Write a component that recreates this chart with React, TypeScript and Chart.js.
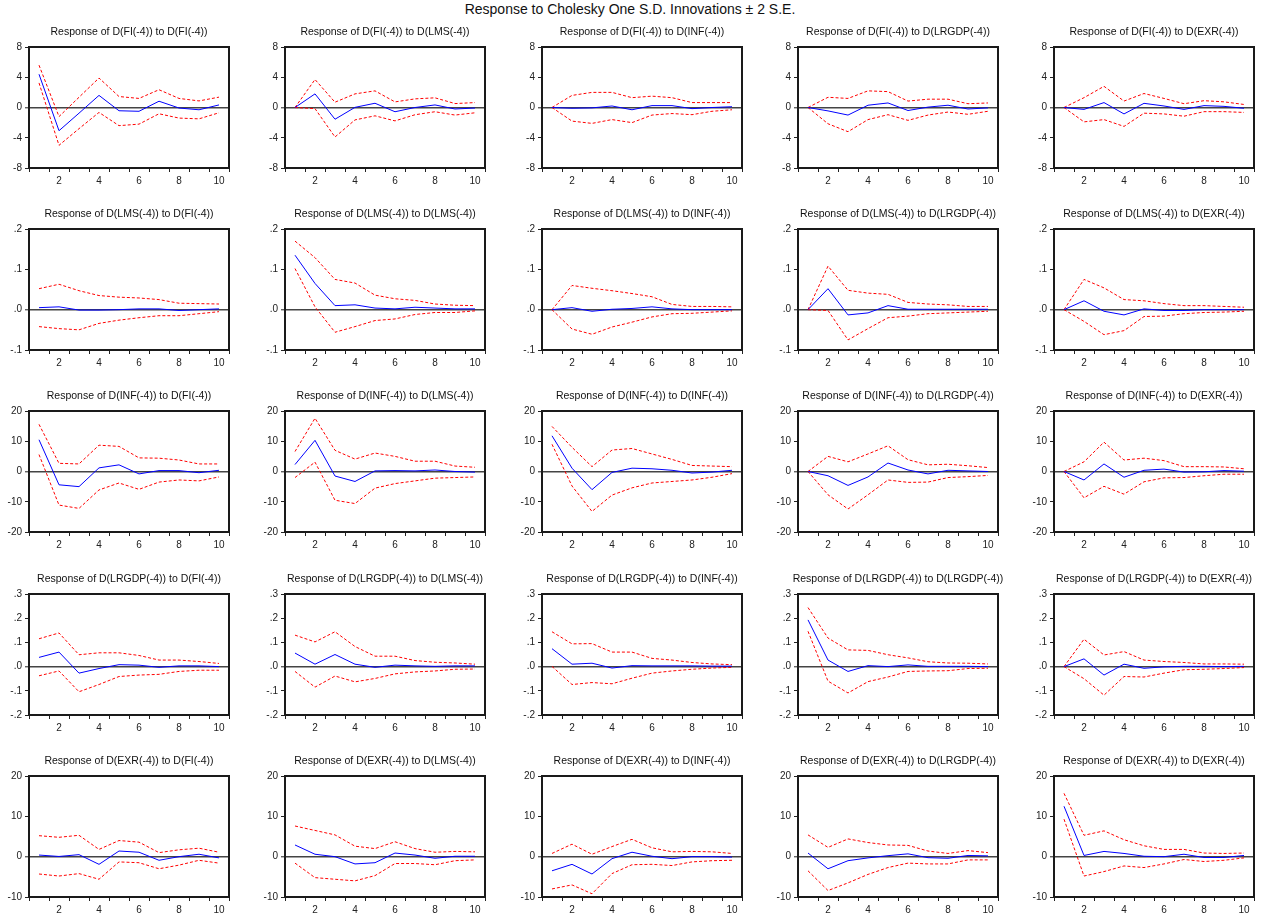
import React, { useEffect, useRef } from 'react';
import { Chart, registerables } from 'chart.js';

Chart.register(...registerables);

const periods = ['1', '2', '3', '4', '5', '6', '7', '8', '9', '10'];
const variables = ['FI', 'LMS', 'INF', 'LRGDP', 'EXR'];

// y-axis setup per response row
const yMin = [-8, -0.1, -20, -0.2, -10];
const yMax = [8, 0.2, 20, 0.3, 20];
const yStep = [4, 0.1, 10, 0.1, 10];
const decimalRows = [false, true, false, true, false];

// Response of D(FI(-4))
const r_FI_FI = [4.4, -3.07, -0.75, 1.6, -0.43, -0.5, 0.83, -0.07, -0.3, 0.34];
const u_FI_FI = [5.6, -1.2, 1.35, 3.9, 1.45, 1.2, 2.35, 1.2, 0.87, 1.37];
const l_FI_FI = [3.25, -5.0, -2.8, -0.65, -2.4, -2.2, -0.83, -1.4, -1.5, -0.7];
const r_FI_LMS = [0, 1.8, -1.55, 0.02, 0.56, -0.56, 0, 0.34, -0.2, -0.07];
const u_FI_LMS = [0, 3.7, 0.7, 1.8, 2.2, 0.74, 1.14, 1.28, 0.52, 0.65];
const l_FI_LMS = [0, -0.15, -3.9, -1.64, -1.1, -1.77, -0.96, -0.56, -1.0, -0.7];
const r_FI_INF = [0, -0.1, -0.05, 0.2, -0.3, 0.25, 0.25, -0.15, 0, 0.1];
const u_FI_INF = [0, 1.6, 2.0, 2.0, 1.3, 1.5, 1.3, 0.65, 0.65, 0.65];
const l_FI_INF = [0, -1.8, -2.1, -1.6, -2.0, -1.0, -0.8, -0.95, -0.5, -0.3];
const r_FI_LRGDP = [0, -0.45, -1.0, 0.3, 0.6, -0.4, 0.05, 0.3, -0.2, -0.05];
const u_FI_LRGDP = [0, 1.35, 1.2, 2.2, 2.1, 0.85, 1.1, 1.1, 0.5, 0.6];
const l_FI_LRGDP = [0, -2.15, -3.2, -1.6, -0.95, -1.7, -1.0, -0.6, -0.9, -0.5];
const r_FI_EXR = [0, -0.25, 0.65, -0.85, 0.55, 0.2, -0.25, 0.25, 0.15, -0.1];
const u_FI_EXR = [0, 1.3, 2.8, 0.85, 1.85, 1.2, 0.5, 0.9, 0.75, 0.4];
const l_FI_EXR = [0, -1.9, -1.6, -2.5, -0.75, -0.85, -1.15, -0.55, -0.55, -0.65];

// Response of D(LMS(-4))
const r_LMS_FI = [0.005, 0.007, -0.001, -0.001, 0, 0.002, 0.002, -0.002, 0, 0.002];
const u_LMS_FI = [0.052, 0.063, 0.047, 0.035, 0.031, 0.029, 0.025, 0.016, 0.015, 0.014];
const l_LMS_FI = [-0.042, -0.047, -0.05, -0.034, -0.026, -0.02, -0.015, -0.015, -0.01, -0.005];
const r_LMS_LMS = [0.135, 0.065, 0.01, 0.012, 0.004, 0.002, 0.006, 0.004, 0.002, 0.002];
const u_LMS_LMS = [0.17, 0.129, 0.075, 0.066, 0.036, 0.027, 0.023, 0.014, 0.011, 0.01];
const l_LMS_LMS = [0.102, 0.007, -0.056, -0.042, -0.027, -0.023, -0.012, -0.007, -0.007, -0.003];
const r_LMS_INF = [0, 0.005, -0.004, 0.001, 0.003, 0.007, 0.002, 0, 0, 0];
const u_LMS_INF = [0, 0.06, 0.053, 0.047, 0.04, 0.032, 0.013, 0.008, 0.008, 0.007];
const l_LMS_INF = [0, -0.048, -0.061, -0.043, -0.031, -0.018, -0.01, -0.009, -0.006, -0.003];
const r_LMS_LRGDP = [0, 0.052, -0.013, -0.008, 0.01, 0.001, 0.001, 0.001, 0.001, 0.001];
const u_LMS_LRGDP = [0, 0.108, 0.048, 0.041, 0.038, 0.018, 0.014, 0.012, 0.008, 0.008];
const l_LMS_LRGDP = [0, -0.002, -0.075, -0.047, -0.02, -0.016, -0.01, -0.008, -0.006, -0.004];
const r_LMS_EXR = [0, 0.022, -0.004, -0.013, 0.002, -0.002, -0.002, 0, 0, 0];
const u_LMS_EXR = [0, 0.075, 0.054, 0.025, 0.022, 0.015, 0.01, 0.01, 0.008, 0.006];
const l_LMS_EXR = [0, -0.029, -0.062, -0.052, -0.017, -0.016, -0.01, -0.007, -0.006, -0.004];

// Response of D(INF(-4))
const r_INF_FI = [10.5, -4.4, -5.0, 1.2, 2.2, -0.8, 0.3, 0.3, -0.4, 0.4];
const u_INF_FI = [15.6, 2.7, 2.5, 8.7, 8.3, 4.5, 4.4, 3.8, 2.5, 2.5];
const l_INF_FI = [5.6, -11.1, -12.2, -6.1, -3.8, -5.9, -3.5, -2.8, -3.1, -1.8];
const r_INF_LMS = [2.3, 10.3, -1.5, -3.3, 0.2, 0.3, 0.2, 0.5, 0, -0.2];
const u_INF_LMS = [6.6, 17.6, 7.0, 4.1, 6.1, 5.0, 3.4, 3.4, 1.8, 1.4];
const l_INF_LMS = [-2.0, 3.1, -9.5, -10.6, -5.5, -4.0, -3.1, -2.2, -2.0, -1.8];
const r_INF_INF = [11.8, 1.1, -6.0, -0.3, 1.1, 0.9, 0.4, -0.5, -0.2, 0.4];
const u_INF_INF = [14.9, 8.0, 1.6, 7.1, 7.6, 5.8, 4.0, 2.0, 1.8, 1.6];
const l_INF_INF = [9.0, -4.8, -13.2, -7.8, -5.4, -3.8, -3.3, -2.8, -1.9, -0.7];
const r_INF_LRGDP = [0, -1.4, -4.6, -1.8, 2.8, 0.5, -0.8, 0.4, 0.2, 0];
const u_INF_LRGDP = [0, 5.0, 3.2, 5.8, 8.5, 3.9, 2.2, 2.4, 1.9, 1.3];
const l_INF_LRGDP = [0, -7.7, -12.4, -7.7, -2.8, -3.6, -3.5, -2.0, -1.7, -1.3];
const r_INF_EXR = [0, -2.8, 2.5, -1.9, 0.4, 0.8, -0.2, -0.1, 0.3, 0.1];
const u_INF_EXR = [0, 3.2, 9.7, 3.8, 4.4, 3.6, 1.6, 1.6, 1.5, 0.9];
const l_INF_EXR = [0, -8.7, -4.9, -7.5, -3.4, -2.1, -2.0, -1.4, -0.9, -0.9];

// Response of D(LRGDP(-4))
const r_LRGDP_FI = [0.038, 0.06, -0.027, -0.008, 0.008, 0.006, -0.003, 0.003, 0.003, 0];
const u_LRGDP_FI = [0.115, 0.139, 0.049, 0.057, 0.057, 0.046, 0.027, 0.027, 0.021, 0.013];
const l_LRGDP_FI = [-0.038, -0.018, -0.104, -0.074, -0.041, -0.035, -0.032, -0.02, -0.015, -0.015];
const r_LRGDP_LMS = [0.056, 0.01, 0.05, 0.01, -0.003, 0.006, 0.003, 0.001, 0.003, 0.003];
const u_LRGDP_LMS = [0.13, 0.102, 0.144, 0.083, 0.043, 0.043, 0.025, 0.018, 0.015, 0.01];
const l_LRGDP_LMS = [-0.02, -0.085, -0.039, -0.063, -0.049, -0.03, -0.022, -0.018, -0.011, -0.01];
const r_LRGDP_INF = [0.074, 0.01, 0.014, -0.006, 0.004, 0.003, 0.003, 0.003, 0.002, 0.002];
const u_LRGDP_INF = [0.144, 0.094, 0.095, 0.06, 0.06, 0.034, 0.027, 0.017, 0.011, 0.008];
const l_LRGDP_INF = [0.001, -0.074, -0.066, -0.071, -0.048, -0.027, -0.018, -0.011, -0.006, -0.003];
const r_LRGDP_LRGDP = [0.193, 0.027, -0.02, 0.004, 0, 0.007, 0.001, 0.001, 0.001, 0];
const u_LRGDP_LRGDP = [0.244, 0.118, 0.069, 0.067, 0.049, 0.036, 0.02, 0.015, 0.014, 0.011];
const l_LRGDP_LRGDP = [0.146, -0.06, -0.109, -0.062, -0.043, -0.02, -0.018, -0.017, -0.008, -0.007];
const r_LRGDP_EXR = [0, 0.032, -0.035, 0.01, -0.007, -0.001, 0.001, 0.001, 0, 0.001];
const u_LRGDP_EXR = [0, 0.113, 0.048, 0.062, 0.027, 0.021, 0.017, 0.011, 0.011, 0.01];
const l_LRGDP_EXR = [0, -0.05, -0.118, -0.041, -0.043, -0.027, -0.013, -0.011, -0.008, -0.004];

// Response of D(EXR(-4))
const r_EXR_FI = [0.4, 0.05, 0.5, -1.9, 1.4, 1.1, -0.9, 0, 0.6, -0.3];
const u_EXR_FI = [5.2, 4.8, 5.3, 1.8, 4.0, 3.6, 1.0, 1.7, 2.1, 1.1];
const l_EXR_FI = [-4.3, -4.8, -4.2, -5.6, -1.3, -1.5, -3.0, -2.1, -0.9, -1.6];
const r_EXR_LMS = [2.9, 0.6, 0, -1.8, -1.5, 0.9, 0.4, -0.4, 0.1, 0.1];
const u_EXR_LMS = [7.6, 6.5, 5.4, 2.6, 2.0, 3.7, 2.0, 1.1, 1.3, 1.2];
const l_EXR_LMS = [-1.6, -5.2, -5.6, -6.0, -4.7, -1.7, -1.7, -2.0, -1.0, -0.8];
const r_EXR_INF = [-3.5, -1.9, -4.3, -0.5, 1.1, 0.1, -0.5, 0, 0, -0.1];
const u_EXR_INF = [0.8, 3.1, 0.6, 2.5, 4.3, 2.2, 1.2, 1.3, 1.2, 0.8];
const l_EXR_INF = [-8.0, -7.0, -9.2, -4.2, -2.0, -1.9, -2.2, -1.3, -1.0, -0.9];
const r_EXR_LRGDP = [0.9, -3.0, -1.0, -0.3, 0.25, 0.7, -0.25, -0.4, 0.3, 0.2];
const u_EXR_LRGDP = [5.4, 2.3, 4.4, 3.5, 2.9, 2.8, 1.4, 0.8, 1.5, 1.0];
const l_EXR_LRGDP = [-3.5, -8.4, -6.5, -4.4, -2.7, -1.6, -1.8, -1.8, -0.8, -0.8];
const r_EXR_EXR = [12.5, 0.3, 1.3, 0.8, 0.1, 0, 0.6, -0.2, -0.2, 0.3];
const u_EXR_EXR = [15.7, 5.3, 6.4, 4.2, 2.7, 1.8, 1.8, 0.9, 0.8, 0.9];
const l_EXR_EXR = [9.3, -4.8, -3.7, -2.3, -2.7, -1.8, -0.7, -1.2, -0.9, -0.3];

const panelData = [
  [[r_FI_FI, u_FI_FI, l_FI_FI], [r_FI_LMS, u_FI_LMS, l_FI_LMS], [r_FI_INF, u_FI_INF, l_FI_INF], [r_FI_LRGDP, u_FI_LRGDP, l_FI_LRGDP], [r_FI_EXR, u_FI_EXR, l_FI_EXR]],
  [[r_LMS_FI, u_LMS_FI, l_LMS_FI], [r_LMS_LMS, u_LMS_LMS, l_LMS_LMS], [r_LMS_INF, u_LMS_INF, l_LMS_INF], [r_LMS_LRGDP, u_LMS_LRGDP, l_LMS_LRGDP], [r_LMS_EXR, u_LMS_EXR, l_LMS_EXR]],
  [[r_INF_FI, u_INF_FI, l_INF_FI], [r_INF_LMS, u_INF_LMS, l_INF_LMS], [r_INF_INF, u_INF_INF, l_INF_INF], [r_INF_LRGDP, u_INF_LRGDP, l_INF_LRGDP], [r_INF_EXR, u_INF_EXR, l_INF_EXR]],
  [[r_LRGDP_FI, u_LRGDP_FI, l_LRGDP_FI], [r_LRGDP_LMS, u_LRGDP_LMS, l_LRGDP_LMS], [r_LRGDP_INF, u_LRGDP_INF, l_LRGDP_INF], [r_LRGDP_LRGDP, u_LRGDP_LRGDP, l_LRGDP_LRGDP], [r_LRGDP_EXR, u_LRGDP_EXR, l_LRGDP_EXR]],
  [[r_EXR_FI, u_EXR_FI, l_EXR_FI], [r_EXR_LMS, u_EXR_LMS, l_EXR_LMS], [r_EXR_INF, u_EXR_INF, l_EXR_INF], [r_EXR_LRGDP, u_EXR_LRGDP, l_EXR_LRGDP], [r_EXR_EXR, u_EXR_EXR, l_EXR_EXR]],
];

// layout (pixels)
const BOX_LEFT = [29, 285, 542, 798, 1054];
const BOX_TOP = [47, 229, 411, 594, 776];
const BOX_W = 200;
const BOX_H = 121;
const Y_AXIS_W = 29;
const TITLE_H = 21;
const X_AXIS_H = 22;
const PAD_R = 6;

const FONT = '"Liberation Sans", Arial, Helvetica, sans-serif';

const framePlugin = {
  id: 'frame',
  afterDraw(chart: any, _args: any, opts: any) {
    const { ctx, chartArea: a } = chart;
    ctx.save();
    ctx.strokeStyle = '#1a1a1a';
    ctx.lineWidth = 2;
    ctx.strokeRect(a.left, a.top, a.right - a.left, a.bottom - a.top);
    ctx.fillStyle = '#111';
    ctx.font = `10.5px ${FONT}`;
    ctx.textAlign = 'center';
    ctx.textBaseline = 'middle';
    ctx.fillText(opts.text || '', (a.left + a.right) / 2, a.top - 15);
    ctx.restore();
  },
};

function fmtTick(v: number, decimal: boolean) {
  if (Math.abs(v) < 1e-9) return decimal ? '.0' : '0';
  if (!decimal) return String(Math.round(v));
  const s = v.toFixed(1);
  return s.replace('0.', '.');
}

function Panel({ row, col }: { row: number; col: number }) {
  const ref = useRef<HTMLCanvasElement | null>(null);
  const w = Y_AXIS_W + BOX_W + PAD_R;
  const h = TITLE_H + BOX_H + X_AXIS_H;

  useEffect(() => {
    if (!ref.current) return;
    const [resp, upper, lower] = panelData[row][col];
    const decimal = decimalRows[row];
    const chart = new Chart(ref.current, {
      type: 'line',
      data: {
        labels: periods,
        datasets: [
          { data: resp, borderColor: '#0000ff', borderWidth: 1, pointRadius: 0, tension: 0, fill: false },
          { data: upper, borderColor: '#ff0000', borderWidth: 1, borderDash: [3, 2], pointRadius: 0, tension: 0, fill: false },
          { data: lower, borderColor: '#ff0000', borderWidth: 1, borderDash: [3, 2], pointRadius: 0, tension: 0, fill: false },
        ],
      },
      options: {
        animation: false,
        responsive: false,
        devicePixelRatio: 1,
        layout: { padding: { top: TITLE_H, right: PAD_R, left: 0, bottom: 0 } },
        plugins: {
          legend: { display: false },
          tooltip: { enabled: false },
          title: { display: false },
          frame: { text: `Response of D(${variables[row]}(-4)) to D(${variables[col]}(-4))` },
        } as any,
        scales: {
          x: {
            type: 'category',
            offset: true,
            border: { display: false },
            grid: {
              display: true,
              offset: true,
              drawOnChartArea: false,
              drawTicks: true,
              tickLength: 4,
              color: '#222',
              lineWidth: 1,
            },
            ticks: {
              autoSkip: false,
              maxRotation: 0,
              padding: 3,
              color: '#222',
              font: { family: FONT, size: 10 },
              callback: (_v: any, i: number) => ((i + 1) % 2 === 0 ? periods[i] : ''),
            },
            afterFit: (s: any) => {
              s.height = X_AXIS_H;
            },
          },
          y: {
            type: 'linear',
            min: yMin[row],
            max: yMax[row],
            border: { display: false },
            grid: {
              display: true,
              drawOnChartArea: true,
              drawTicks: true,
              tickLength: 4,
              tickColor: '#222',
              tickWidth: 1,
              color: (c: any) => (c.tick && Math.abs(c.tick.value) < 1e-9 ? '#444' : 'rgba(0,0,0,0)'),
              lineWidth: (c: any) => (c.tick && Math.abs(c.tick.value) < 1e-9 ? 1.6 : 1),
            },
            ticks: {
              stepSize: yStep[row],
              padding: 3,
              color: '#222',
              font: { family: FONT, size: 10 },
              callback: (v: any) => fmtTick(Number(v), decimal),
            },
            afterFit: (s: any) => {
              s.width = Y_AXIS_W;
            },
          },
        },
      } as any,
      plugins: [framePlugin],
    });
    return () => chart.destroy();
  }, [row, col]);

  return (
    <canvas
      ref={ref}
      width={w}
      height={h}
      style={{
        position: 'absolute',
        left: BOX_LEFT[col] - Y_AXIS_W,
        top: BOX_TOP[row] - TITLE_H,
        width: w,
        height: h,
      }}
    />
  );
}

export default function App() {
  const cells: React.ReactNode[] = [];
  for (let r = 0; r < 5; r++) {
    for (let c = 0; c < 5; c++) {
      cells.push(<Panel key={`${r}-${c}`} row={r} col={c} />);
    }
  }
  return (
    <div
      style={{
        position: 'fixed',
        left: 0,
        top: 0,
        width: 1264,
        height: 914,
        overflow: 'hidden',
        background: '#fff',
      }}
    >
      <div
        style={{
          position: 'absolute',
          left: 0,
          top: 0,
          width: 1260,
          textAlign: 'center',
          fontFamily: FONT,
          fontSize: 14,
          lineHeight: '18px',
          color: '#111',
        }}
      >
        Response to Cholesky One S.D. Innovations ± 2 S.E.
      </div>
      {cells}
    </div>
  );
}
